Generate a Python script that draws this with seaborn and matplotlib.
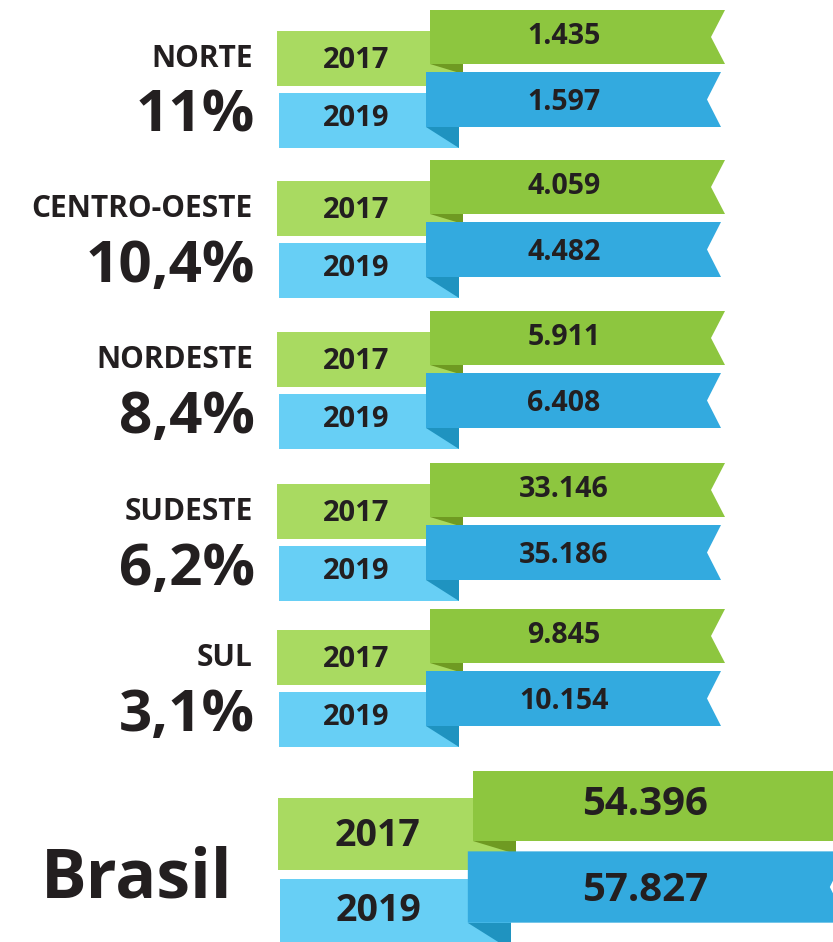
import numpy as np
import matplotlib.pyplot as plt
import seaborn as sns
from matplotlib.patches import Polygon

# data
regions = ["NORTE", "CENTRO-OESTE", "NORDESTE", "SUDESTE", "SUL"]
growth = [11.0, 10.4, 8.4, 6.2, 3.1]
values_2017 = [1435, 4059, 5911, 33146, 9845]
values_2019 = [1597, 4482, 6408, 35186, 10154]
years = ["2017", "2019"]
brasil_2017 = 54396
brasil_2019 = 57827

sns.set_theme(style="white")
plt.rcParams['font.family'] = ['Open Sans', 'DejaVu Sans']

GREEN = "#8dc63f"
GREEN_TAB = "#a9da61"
GREEN_DARK = "#6f9a22"
BLUE = "#33aadf"
BLUE_TAB = "#67cff5"
BLUE_DARK = "#1f93c0"
INK = "#231f20"


def fmt_num(v):
    return f"{v:,}".replace(",", ".")


def fmt_pct(v):
    s = f"{v:.1f}".replace(".", ",")
    if s.endswith(",0"):
        s = s[:-2]
    return s + "%"


def poly(ax, pts, color, z):
    ax.add_patch(Polygon(pts, closed=True, facecolor=color, edgecolor="none", zorder=z))


def ribbon(ax, x0, x1, y0, y1, notch, color, z):
    ym = (y0 + y1) / 2
    poly(ax, [(x0, y0), (x1, y0), (x1 - notch, ym), (x1, y1), (x0, y1)], color, z)


def block(ax, g, s, tab_x, rib_x, rib_w, notch, v17, v19, yfs, vfs, yx, vx):
    # s = scale of the block (1 for regions)
    h = 54 * s
    # tabs
    poly(ax, [(tab_x, g + 21 * s), (rib_x + 33 * s, g + 21 * s),
              (rib_x + 33 * s, g + 76 * s), (tab_x, g + 76 * s)], GREEN_TAB, 1)
    poly(ax, [(tab_x + 2, g + 83 * s), (rib_x + 29 * s, g + 83 * s),
              (rib_x + 29 * s, g + 138 * s), (tab_x + 2, g + 138 * s)], BLUE_TAB, 1)
    # folds
    poly(ax, [(rib_x, g + h), (rib_x + 33 * s, g + h), (rib_x + 33 * s, g + 64 * s)], GREEN_DARK, 2)
    poly(ax, [(rib_x - 4 * s, g + 117 * s), (rib_x + 29 * s, g + 117 * s),
              (rib_x + 29 * s, g + 138 * s)], BLUE_DARK, 2)
    # main ribbons
    ribbon(ax, rib_x, rib_x + rib_w, g, g + h, notch, GREEN, 3)
    ribbon(ax, rib_x - 4 * s, rib_x - 4 * s + rib_w, g + 62 * s, g + 117 * s, notch, BLUE, 4)
    # text
    ax.text(yx, g + 58 * s, years[0], ha="center", va="baseline", fontsize=yfs,
            fontweight="bold", color=INK, zorder=5)
    ax.text(yx, g + 116 * s, years[1], ha="center", va="baseline", fontsize=yfs,
            fontweight="bold", color=INK, zorder=5)
    ax.text(vx, g + 34 * s, fmt_num(v17), ha="center", va="baseline", fontsize=vfs,
            fontweight="bold", color=INK, zorder=5)
    ax.text(vx, g + 100 * s, fmt_num(v19), ha="center", va="baseline", fontsize=vfs,
            fontweight="bold", color=INK, zorder=5)


fig = plt.figure(figsize=(8.33, 9.42), dpi=100)
ax = fig.add_axes([0, 0, 1, 1])
ax.set_xlim(0, 833)
ax.set_ylim(942, 0)
ax.axis("off")

tops = [10, 160, 311, 463, 609]
for i, g in enumerate(tops):
    block(ax, g, 1.0, 277, 430, 295, 14, values_2017[i], values_2019[i], 21, 20.5, 356, 564)
    ax.text(253, g + 57, regions[i], ha="right", va="baseline", fontsize=21.5,
            fontweight="bold", color=INK)
    ax.text(255, g + 122, fmt_pct(growth[i]), ha="right", va="baseline", fontsize=42,
            fontweight="bold", color=INK)

# Brasil block
s = 70 / 54
gb = 771
block(ax, gb, s, 278, 473, 380, 18, brasil_2017, brasil_2019, 27, 29, 378, 645)
ax.text(233, 897, "Brasil", ha="right", va="baseline", fontsize=49,
        fontweight="bold", color=INK)

fig.savefig("out.png", dpi=100)
